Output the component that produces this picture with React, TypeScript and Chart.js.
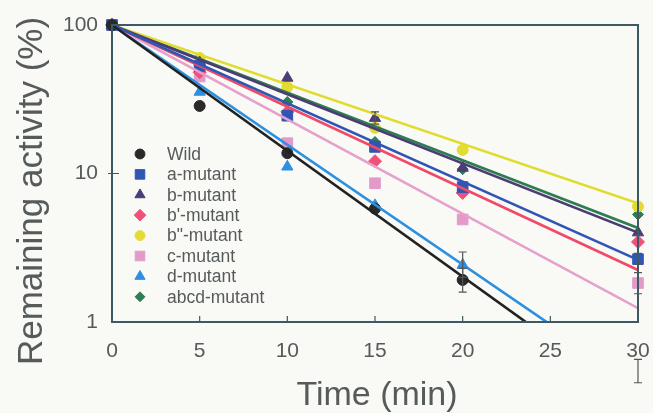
import React, { useEffect, useRef } from 'react';
import { Chart, registerables } from 'chart.js';
import { drawPoint } from 'chart.js/helpers';
Chart.register(...registerables);

// ---- data ----
const times = [0, 5, 10, 15, 20, 30];
const seriesNames = ['Wild', 'a-mutant', 'b-mutant', "b'-mutant", 'b"-mutant', 'c-mutant', 'd-mutant', 'abcd-mutant'];
const wildValues = [100, 28.5, 13.7, 5.8, 1.92, null];
const aValues = [100, 53, 24.5, 15.1, 8.1, 2.65];
const bValues = [100, 56, 44, 23.6, 10.9, 4.0];
const bPrimeValues = [100, 48, 26, 12.1, 7.4, 3.46];
const bDoublePrimeValues = [100, 60, 38.2, 20.3, 14.4, 6.0];
const cValues = [100, 45, 16, 8.6, 4.9, 1.83];
const dValues = [100, 35.4, 11.1, 6.1, 2.42, null];
const abcdValues = [100, 54, 30.3, 16.3, 10.7, 5.3];
// fitted (regression) lines: value at t=0 and at t=30
const fitStart = [100, 100, 100, 100, 100, 100, 100, 100];
const fitEnd = [0.287, 2.62, 4.0, 2.24, 6.3, 1.24, 0.38, 4.3];
const xTickValues = [0, 5, 10, 15, 20, 25, 30];
const yTickValues = [1, 10, 100];
const xTitle = 'Time (min)';
const yTitle = 'Remaining activity (%)';
// error bars: [seriesIndex, time, low, high]
const errorBars: [number, number, number, number][] = [
  [0, 20, 1.59, 2.3],
  [6, 20, 2.0, 2.96],
  [5, 30, 1.55, 2.15],
  [1, 30, 2.45, 2.9],
  [2, 15, 21.5, 26],
  [6, 30, 0.39, 0.56],
];

const allValues = [wildValues, aValues, bValues, bPrimeValues, bDoublePrimeValues, cValues, dValues, abcdValues];
const colors = ['#2a2a2a', '#2f56b4', '#4b3d78', '#f0507a', '#e4dc34', '#e39ac8', '#2d8fe2', '#2f7d56'];
const lineColors = ['#222222', '#2f56b4', '#4b3d73', '#f04a68', '#e0dc2c', '#e6a0cc', '#2c90e0', '#2e7d52'];
const pointStyles = ['circle', 'rect', 'triangle', 'rectRot', 'circle', 'rect', 'triangle', 'rectRot'];
const pointRadii = [5.5, 7.5, 6.5, 6.5, 5.5, 7.5, 6.5, 5.5];

const AXIS_COLOR = '#3d5a62';
const TEXT_COLOR = '#555b5b';
const FONT = '"Liberation Sans", Arial, sans-serif';

const framePlugin = {
  id: 'frame',
  beforeDraw(chart: any) {
    const { ctx } = chart;
    ctx.save();
    ctx.fillStyle = '#f9f9f5';
    ctx.fillRect(0, 0, chart.width, chart.height);
    ctx.restore();
  },
  afterDatasetsDraw(chart: any) {
    const { ctx, chartArea: a, scales } = chart;
    ctx.save();
    // error bars
    ctx.strokeStyle = '#555';
    ctx.lineWidth = 1.2;
    errorBars.forEach(([, t, lo, hi]) => {
      const x = scales.x.getPixelForValue(t);
      const y1 = scales.y.getPixelForValue(lo);
      const y2 = scales.y.getPixelForValue(hi);
      ctx.beginPath();
      ctx.moveTo(x, y1); ctx.lineTo(x, y2);
      ctx.moveTo(x - 4, y1); ctx.lineTo(x + 4, y1);
      ctx.moveTo(x - 4, y2); ctx.lineTo(x + 4, y2);
      ctx.stroke();
    });
    // frame
    ctx.strokeStyle = AXIS_COLOR;
    ctx.lineWidth = 2;
    ctx.strokeRect(a.left, a.top, a.right - a.left, a.bottom - a.top);
    // inner ticks
    ctx.lineWidth = 1.2;
    ctx.beginPath();
    xTickValues.slice(1, -1).forEach((v) => {
      const x = scales.x.getPixelForValue(v);
      ctx.moveTo(x, a.bottom); ctx.lineTo(x, a.bottom - 6);
    });
    yTickValues.slice(1, -1).forEach((v) => {
      const y = scales.y.getPixelForValue(v);
      ctx.moveTo(a.left - 4, y); ctx.lineTo(a.left + 7, y);
    });
    ctx.stroke();
    ctx.restore();
  },
  afterDraw(chart: any) {
    const { ctx, chartArea: a } = chart;
    ctx.save();
    // legend
    const x0 = 140, textX = 167, y0 = 154, step = 20.4;
    seriesNames.forEach((name, i) => {
      const y = y0 + i * step;
      ctx.fillStyle = colors[i];
      ctx.strokeStyle = colors[i];
      drawPoint(ctx, { pointStyle: pointStyles[i], radius: pointRadii[i] * 0.9, borderWidth: 1, rotation: 0 }, x0, y);
      ctx.fillStyle = TEXT_COLOR;
      ctx.font = `17.5px ${FONT}`;
      ctx.textBaseline = 'middle';
      ctx.textAlign = 'left';
      ctx.fillText(name, textX, y + 1);
    });
    // axis titles
    ctx.fillStyle = TEXT_COLOR;
    ctx.font = `34px ${FONT}`;
    ctx.textAlign = 'center';
    ctx.textBaseline = 'alphabetic';
    ctx.fillText(xTitle, (a.left + a.right) / 2 + 2, 405);
    ctx.font = `35px ${FONT}`;
    ctx.translate(42, 191);
    ctx.rotate(-Math.PI / 2);
    ctx.fillText(yTitle, 0, 0);
    ctx.restore();
  },
};

export default function App() {
  const ref = useRef<HTMLCanvasElement>(null);
  useEffect(() => {
    if (!ref.current) return;
    const datasets: any[] = [];
    allValues.forEach((vals, i) => {
      datasets.push({
        type: 'line',
        label: seriesNames[i] + ' fit',
        data: [{ x: 0, y: fitStart[i] }, { x: 30, y: fitEnd[i] }],
        borderColor: lineColors[i],
        borderWidth: 2.6,
        pointRadius: 0,
        fill: false,
      });
    });
    allValues.forEach((vals, i) => {
      datasets.push({
        type: 'scatter',
        label: seriesNames[i],
        data: times.map((t, k) => ({ x: t, y: vals[k] })).filter((p) => p.y !== null),
        pointStyle: pointStyles[i],
        pointRadius: pointRadii[i],
        backgroundColor: colors[i],
        borderColor: colors[i],
        borderWidth: 1,
        showLine: false,
        clip: false,
      });
    });
    const chart = new Chart(ref.current, {
      type: 'scatter',
      data: { datasets },
      options: {
        responsive: false,
        animation: false,
        events: [],
        layout: { padding: { top: 25, right: 15, left: 0, bottom: 0 } },
        plugins: { legend: { display: false }, tooltip: { enabled: false } },
        scales: {
          x: {
            type: 'linear',
            min: 0,
            max: 30,
            afterBuildTicks: (s: any) => { s.ticks = xTickValues.map((v) => ({ value: v })); },
            afterFit: (s: any) => { s.height = 91; s.paddingLeft = 0; s.paddingRight = 0; },
            grid: { display: false, drawTicks: false },
            border: { display: false },
            ticks: { color: TEXT_COLOR, font: { family: FONT, size: 21 }, padding: 17, maxRotation: 0 },
            title: { display: false },
          },
          y: {
            type: 'logarithmic',
            min: 1,
            max: 100,
            afterBuildTicks: (s: any) => { s.ticks = yTickValues.map((v) => ({ value: v })); },
            afterFit: (s: any) => { s.width = 112; s.paddingTop = 0; s.paddingBottom = 0; },
            grid: { display: false, drawTicks: false },
            border: { display: false },
            ticks: { color: TEXT_COLOR, font: { family: FONT, size: 21 }, padding: 14, callback: (v: any) => String(v) },
            title: { display: false },
          },
        },
      },
      plugins: [framePlugin],
    } as any);
    return () => chart.destroy();
  }, []);
  return (
    <div style={{ position: 'fixed', left: 0, top: 0, width: 653, height: 413, background: '#f9f9f5' }}>
      <canvas ref={ref} width={653} height={413} style={{ display: 'block' }} />
    </div>
  );
}
